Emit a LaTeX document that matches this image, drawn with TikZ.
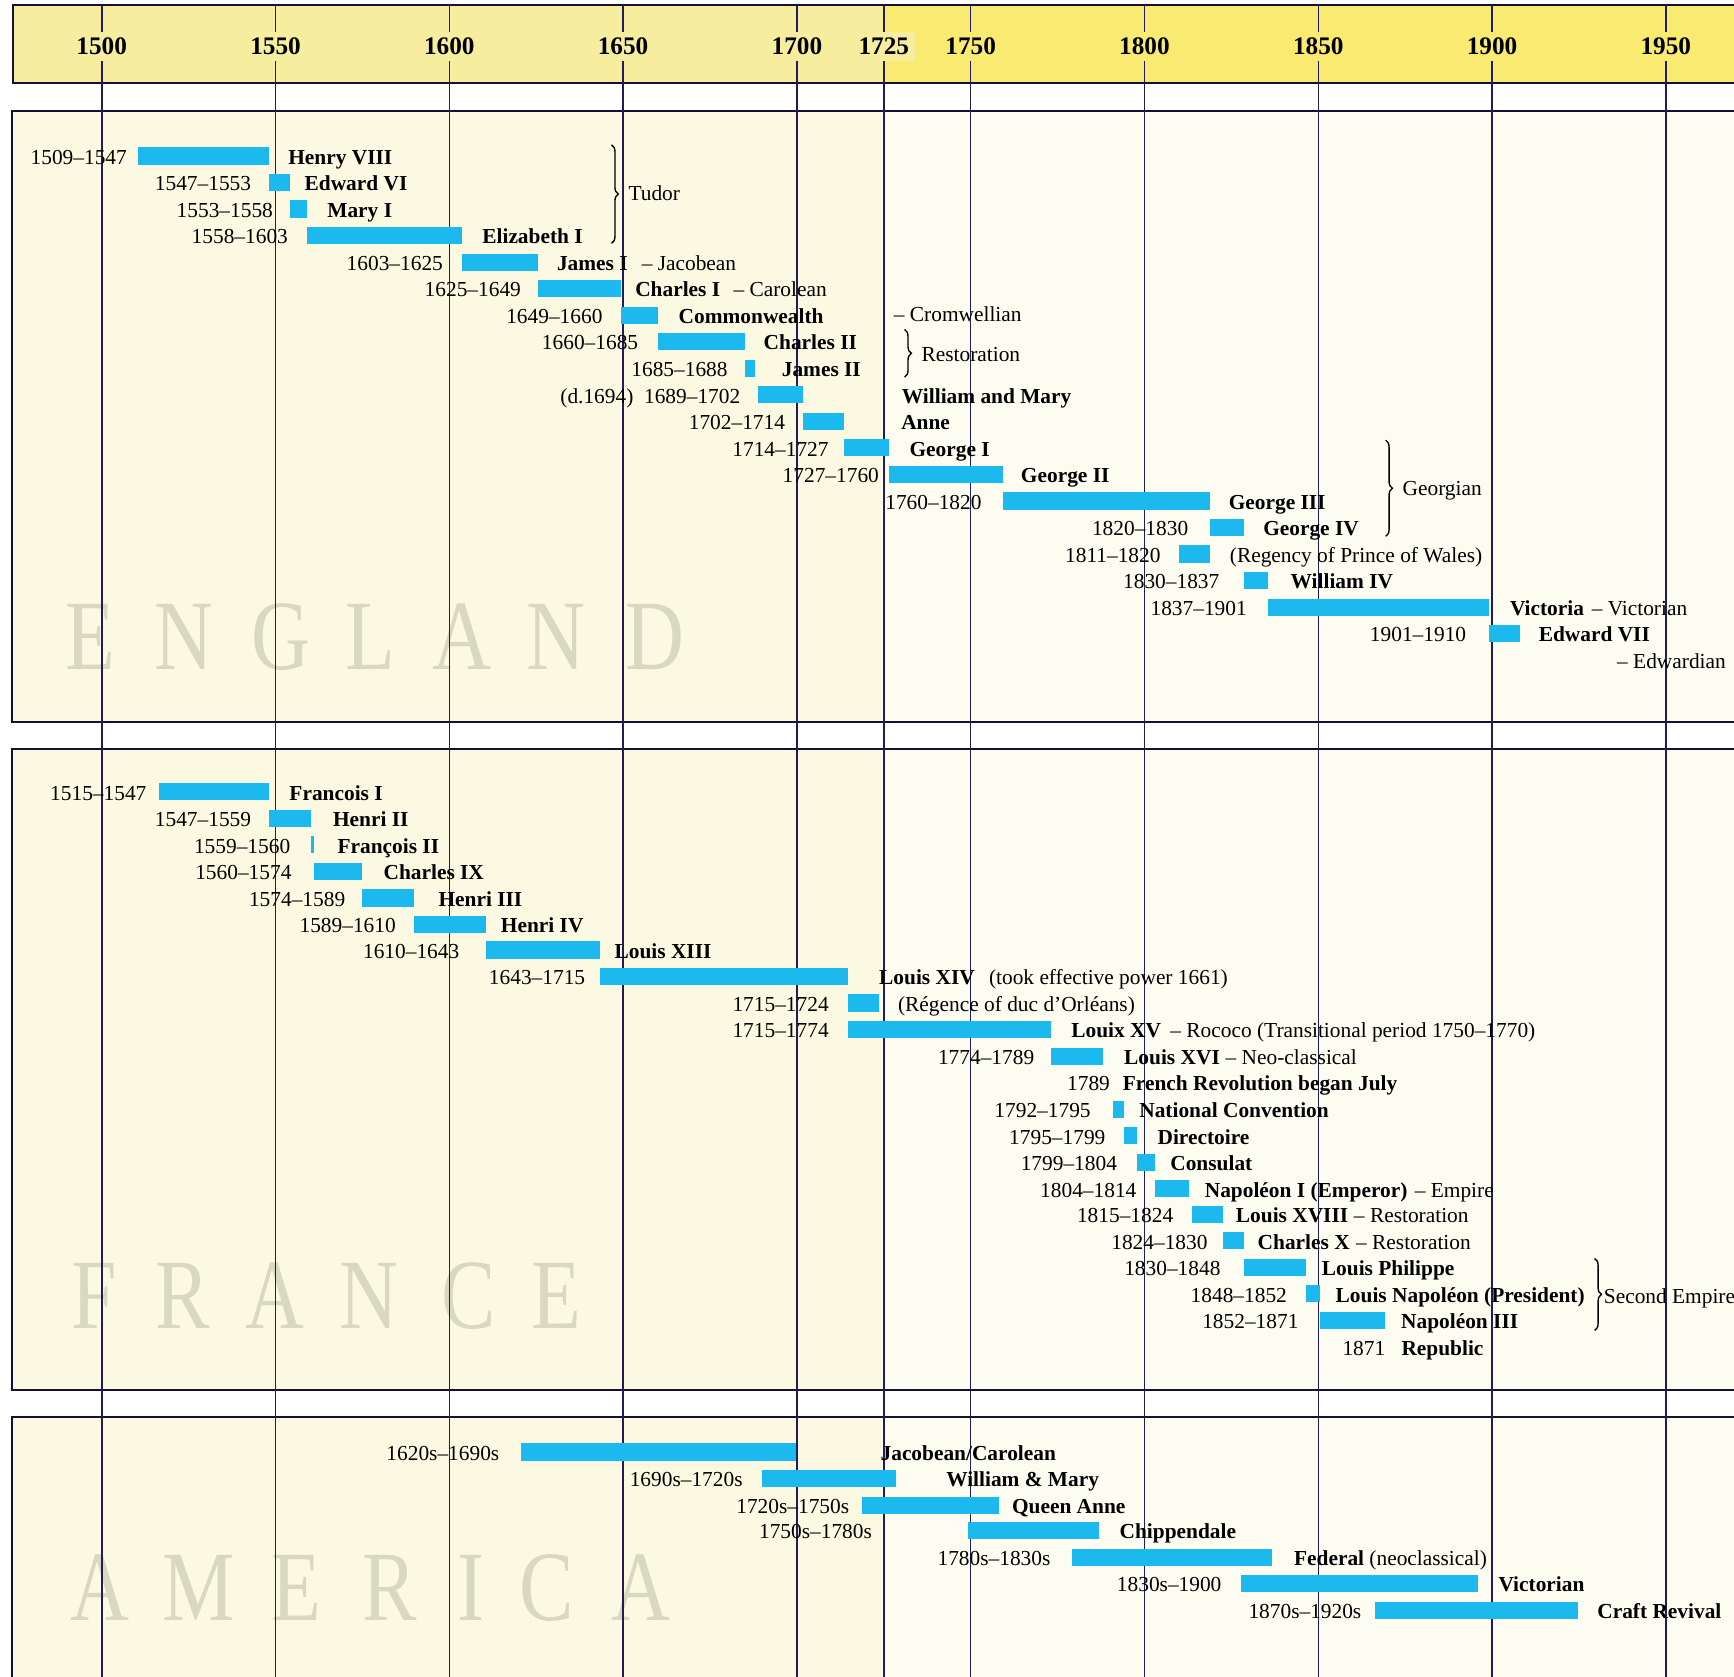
\documentclass[tikz,border=0pt]{standalone}
\usepackage{fontspec}
\setmainfont{Liberation Serif}
\usepackage{tikz}
\usetikzlibrary{positioning,decorations.pathreplacing}
\definecolor{reignblue}{HTML}{1CB9EE}
\definecolor{inkline}{HTML}{231C5A}
\definecolor{bandleft}{HTML}{F6EE9E}
\definecolor{bandright}{HTML}{F9EB72}
\definecolor{paperleft}{HTML}{FBF9E1}
\definecolor{paperright}{HTML}{FDFCF1}
\definecolor{ghost}{HTML}{D9D9C2}
% year -> x, for the bars and for the grid
\newcommand\yrx[1]{97+#1*3.115-4672.5}
\newcommand\gridx[1]{92+#1*3.143-4714.5}
\tikzset{reign/.style={
    fill=reignblue,
    inner sep=0pt, outer sep=0pt,
    minimum height=0.31cm,
    anchor=west}}
\tikzset{datelabel/.style={
    inner sep=0pt,
    text height=0.85em, text depth=0pt,
    font=\fontsize{11}{13}\selectfont}}
\tikzset{ruler/.style={
    datelabel,
    font=\fontsize{11}{13}\selectfont\bfseries}}
\tikzset{remark/.style={
    datelabel,
    anchor=west}}
\tikzset{yearmark/.style={
    font=\fontsize{13}{15}\selectfont\bfseries,
    inner sep=3pt}}
\tikzset{country/.style={
    text=ghost,
    font=\fontsize{42}{42}\selectfont,
    inner sep=0pt,
    yscale=1.22}}
\tikzset{era/.style={
    decorate,
    decoration={brace, amplitude=3.5pt},
    line width=0.7pt}}
\tikzset{panelrule/.style={
    draw=inkline!60!black,
    line width=1.1pt}}
\tikzset{yearline/.style={
    draw=inkline,
    line width=0.8pt}}

\begin{document}
\begin{tikzpicture}[x=0.02cm, y=-0.02cm]
\useasboundingbox (0,0) rectangle (1568,1516);
\fill[white] (0,0) rectangle (1568,1516);

% year band
\fill[bandleft] (12,4.5) rectangle (798,75.4);
\fill[bandright] (798,4.5) rectangle (1570,75.4);
\draw[panelrule] (1570,4.5) -- (12,4.5) -- (12,75.4) -- (1570,75.4);

% the three countries
\foreach \ptop/\pbot in {100.4/653.2,677.6/1257,1281/1530}{
  \fill[paperleft] (11,\ptop) rectangle (798,\pbot);
  \fill[paperright] (798,\ptop) rectangle (1570,\pbot);
  \draw[panelrule] (1570,\ptop) -- (11,\ptop) -- (11,\pbot) -- (1570,\pbot);
}

\foreach \l/\x [count=\k] in {E/82,N/166,G/254,L/335,A/418,N/503,D/592}
  \node[country] (eng\k) at (\x,576) {\l};
\foreach \l/\x [count=\k] in {F/85,R/165,A/249,N/334,C/424,E/503}
  \node[country] (fra\k) at (\x,1172) {\l};
\foreach \l/\x [count=\k] in {A/90,M/180,E/268,R/352,I/426,C/494,A/580}
  \node[country] (ame\k) at (\x,1436) {\l};

\foreach \yr in {1500,1550,1600,1650,1700,1725,1750,1800,1850,1900,1950}
  \draw[yearline] (\gridx{\yr},4.5) -- (\gridx{\yr},1516);
\foreach \yr in {1500,1550,1600,1650,1700,1725}
  \node[yearmark, fill=bandleft] (y\yr) at (\gridx{\yr},42) {\yr};
\foreach \yr in {1750,1800,1850,1900,1950}
  \node[yearmark, fill=bandright] (y\yr) at (\gridx{\yr},42) {\yr};

% England
\foreach \a/\b/\y/\dg/\ng/\dates/\who [count=\i] in {
  1509/1547/141/10/17/{1509–1547}/{Henry VIII},
  1547/1553/165/16/13/{1547–1553}/{Edward VI},
  1553/1558/189/15/18/{1553–1558}/{Mary I},
  1558/1603/213/17/18/{1558–1603}/{Elizabeth I},
  1603/1625/237/17/17/{1603–1625}/{James I},
  1625/1649/261/15/13/{1625–1649}/{Charles I},
  1649/1660/285/16/18/{1649–1660}/{Commonwealth},
  1660/1685/309/18/17/{1660–1685}/{Charles II},
  1685/1688/333/15/24/{1685–1688}/{James II},
  1689/1702/357/16/89/{(d.1694)\enspace 1689–1702}/{William and Mary},
  1702/1714/381/16/51/{1702–1714}/{Anne},
  1714/1727/405/14/18/{1714–1727}/{George I},
  1727/1760/429/9/16/{1727–1760}/{George II},
  1760/1820/453/19/17/{1760–1820}/{George III},
  1820/1830/477/19/17/{1820–1830}/{George IV},
  1811/1820/501/16/18/{1811–1820}/{\mdseries(Regency of Prince of Wales)},
  1830/1837/525/22/20/{1830–1837}/{William IV},
  1837/1901/549/19/19/{1837–1901}/{Victoria},
  1901/1910/573/20/17/{1901–1910}/{Edward VII}}{
  \node[reign, minimum width={(\b-\a)*0.0623cm}] (e\i) at (\yrx{\a},\y) {};
  \node[datelabel, left=\dg*0.02cm of e\i] (ed\i) {\dates};
  \node[ruler, right=\ng*0.02cm of e\i] (en\i) {\who};
}
\node[remark] (jacobean) at (580,237) {– Jacobean};
\node[remark] (carolean) at (663,261) {– Carolean};
\node[remark] (cromwellian) at (808,283) {– Cromwellian};
\node[remark] (victorian) at (1439,549) {– Victorian};
\node[remark] (edwardian) at (1462,597) {– Edwardian};
\coordinate (tudorA) at (553,131);
\coordinate (tudorB) at (553,220);
\draw[era] (tudorA) -- (tudorB);
\node[remark] (tudor) at (568,174) {Tudor};
\coordinate (restA) at (818,298);
\coordinate (restB) at (818,341);
\draw[era] (restA) -- (restB);
\node[remark] (restoration) at (833,319) {Restoration};
\coordinate (georgA) at (1253,398);
\coordinate (georgB) at (1253,485);
\draw[era] (georgA) -- (georgB);
\node[remark] (georgian) at (1268,441) {Georgian};

% France
\foreach \a/\b/\y/\dg/\ng/\dates/\who [count=\i] in {
  1515/1547/716/11/18/{1515–1547}/{Francois I},
  1547/1559/740/16/20/{1547–1559}/{Henri II},
  1559/1560/764/18/21/{1559–1560}/{François II},
  1560/1574/788/20/19/{1560–1574}/{Charles IX},
  1574/1589/812/15/22/{1574–1589}/{Henri III},
  1589/1610/836/16/13/{1589–1610}/{Henri IV},
  1610/1643/859/24/13/{1610–1643}/{Louis XIII},
  1643/1715/883/13/28/{1643–1715}/{Louis XIV},
  1715/1724/907/17/17/{1715–1724}/{\mdseries(Régence of duc d'Orléans)},
  1715/1774/931/17/18/{1715–1774}/{Louix XV},
  1774/1789/955/15/19/{1774–1789}/{Louis XVI},
  1792/1795/1003/20/14/{1792–1795}/{National Convention},
  1795/1799/1027/16/18/{1795–1799}/{Directoire},
  1799/1804/1051/18/14/{1799–1804}/{Consulat},
  1804/1814/1075/16/14/{1804–1814}/{Napoléon I (Emperor)},
  1815/1824/1098/17/11/{1815–1824}/{Louis XVIII},
  1824/1830/1122/14/12/{1824–1830}/{Charles X},
  1830/1848/1146/21/14/{1830–1848}/{Louis Philippe},
  1848/1852/1170/17/14/{1848–1852}/{Louis Napoléon (President)},
  1852/1871/1194/19/14/{1852–1871}/{Napoléon III}}{
  \node[reign, minimum width={(\b-\a)*0.0623cm}] (f\i) at (\yrx{\a},\y) {};
  \node[datelabel, left=\dg*0.02cm of f\i] (fd\i) {\dates};
  \node[ruler, right=\ng*0.02cm of f\i] (fn\i) {\who};
}
\node[remark] (power) at (894,883) {(took effective power 1661)};
\node[remark] (rococo) at (1058,931) {– Rococo (Transitional period 1750–1770)};
\node[remark] (neoclassical) at (1108,955) {– Neo-classical};
\node[datelabel, anchor=east] (rev) at (1004,979) {1789};
\node[ruler, anchor=west] (revname) at (1015,979) {French Revolution began July};
\node[remark] (empire) at (1279,1075) {– Empire};
\node[remark] (restfr1) at (1224,1098) {– Restoration};
\node[remark] (restfr2) at (1226,1122) {– Restoration};
\node[datelabel, anchor=east] (rep) at (1253,1218) {1871};
\node[ruler, anchor=west] (repname) at (1267,1218) {Republic};
\coordinate (secA) at (1442,1138);
\coordinate (secB) at (1442,1203);
\draw[era] (secA) -- (secB);
\node[remark] (second) at (1450,1171) {Second Empire};

% America
\foreach \a/\b/\y/\dg/\ng/\dates/\who [count=\i] in {
  1620/1700/1313/19/76/{1620s–1690s}/{Jacobean/Carolean},
  1690/1729/1337/17/45/{1690s–1720s}/{William \& Mary},
  1719/1759/1361/11/11/{1720s–1750s}/{Queen Anne},
  1750/1788/1384/87/18/{1750s–1780s}/{Chippendale},
  1780/1838/1408/19/20/{1780s–1830s}/{Federal {\mdseries(neoclassical)}},
  1829/1898/1432/17/18/{1830s–1900}/{Victorian},
  1868/1927/1456/12/17/{1870s–1920s}/{Craft Revival}}{
  \node[reign, minimum width={(\b-\a)*0.0623cm}] (a\i) at (\yrx{\a},\y) {};
  \node[datelabel, left=\dg*0.02cm of a\i] (ad\i) {\dates};
  \node[ruler, right=\ng*0.02cm of a\i] (an\i) {\who};
}
\end{tikzpicture}
\end{document}
